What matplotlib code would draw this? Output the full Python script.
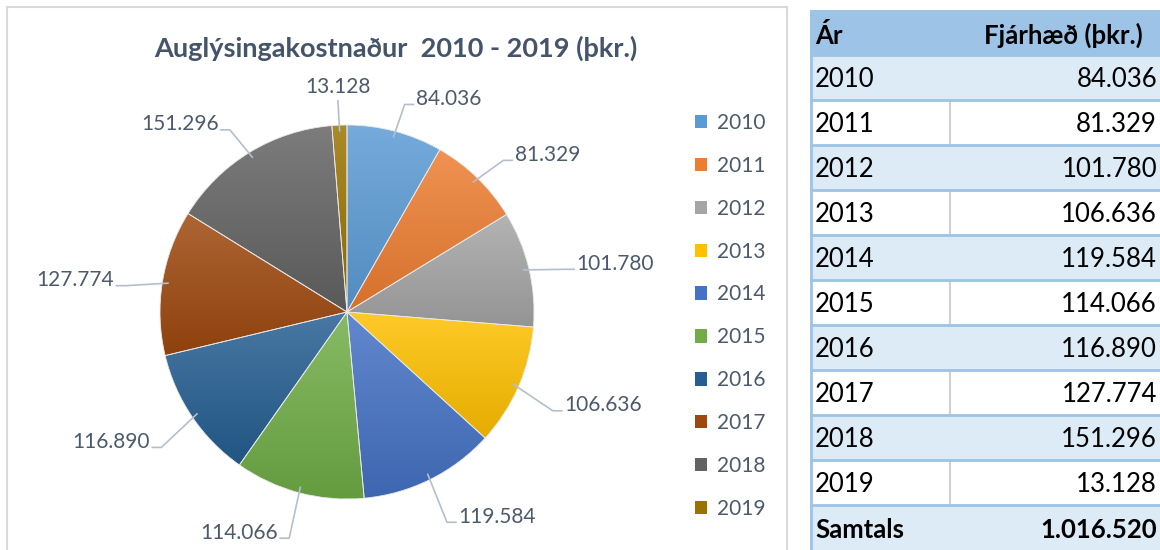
import numpy as np
import matplotlib.pyplot as plt
from matplotlib.patches import Rectangle, Patch
from matplotlib.colors import to_rgb

plt.rcParams["font.family"] = ["Lato", "DejaVu Sans"]

################################################
## Data

years = ["2010", "2011", "2012", "2013", "2014", "2015", "2016", "2017", "2018", "2019"]
amounts = [84.036, 81.329, 101.780, 106.636, 119.584, 114.066, 116.890, 127.774, 151.296, 13.128]
amount_labels = ["84.036", "81.329", "101.780", "106.636", "119.584",
                 "114.066", "116.890", "127.774", "151.296", "13.128"]
total_label = "1.016.520"

title = "Auglýsingakostnaður  2010 - 2019 (þkr.)"
col_headers = ["Ár", "Fjárhæð (þkr.)"]

colors = ["#5B9BD5", "#ED7D31", "#A5A5A5", "#FFC000", "#4472C4",
          "#70AD47", "#255E91", "#9E480E", "#636363", "#997300"]

text_col = "#4D5A6B"
line_col = "#B4BFCC"
W, H = 1160, 550


def shade(c, top=0.16, bottom=0.10, n=64):
    # vertical gradient: lighter on top, a bit darker at the bottom
    c = np.array(to_rgb(c))
    hi = c + (1 - c) * top
    lo = c * (1 - bottom)
    t = np.linspace(0, 1, n)[:, None]
    return (hi * (1 - t) + lo * t)[:, None, :]


################################################
## Figure

fig = plt.figure(figsize=(W / 100, H / 100), dpi=100)

# chart area frame
fig.patches.append(Rectangle((7 / W, -0.01), 780 / W, 1 - 7 / H + 0.01,
                             transform=fig.transFigure, fill=False,
                             ec="#D9D9D9", lw=1.5))

fig.text(396 / W, 1 - 48 / H, title, ha="center", va="center",
         fontsize=19.5, fontweight="bold", color="#44546A")

## Pie
cx, cy, R = 347, 312, 187
lim = 1.45
Rax = R * lim
ax = fig.add_axes([(cx - Rax) / W, (H - cy - Rax) / H, 2 * Rax / W, 2 * Rax / H])

wedges, _ = ax.pie(amounts, colors=colors, startangle=90, counterclock=False,
                   radius=1, wedgeprops=dict(ec="#E8E8E8", lw=0.6))

for w, c in zip(wedges, colors):
    bb = w.get_path().get_extents()
    im = ax.imshow(shade(c), extent=[bb.x0, bb.x1, bb.y0, bb.y1], origin="upper",
                   aspect="auto", zorder=1, interpolation="bilinear")
    im.set_clip_path(w)
    w.set_facecolor("none")
    w.set_zorder(2)

ax.set_xlim(-lim, lim)
ax.set_ylim(-lim, lim)
ax.set_aspect("equal")
ax.axis("off")

# data labels with leader lines
for w, lab in zip(wedges, amount_labels):
    ang = np.deg2rad((w.theta1 + w.theta2) / 2)
    x0, y0 = 0.97 * np.cos(ang), 0.97 * np.sin(ang)
    x1, y1 = 1.2 * np.cos(ang), 1.2 * np.sin(ang) - 0.05
    c = np.cos(ang)
    ha = "left" if c > 0.05 else ("right" if c < -0.05 else "center")
    dx = 0.06 if ha == "left" else (-0.06 if ha == "right" else 0)
    if ha == "center":
        ax.plot([x0, x1], [y0, y1 - 0.02], color=line_col, lw=1.2, zorder=3)
        ax.text(x1, y1, lab, ha="center", va="bottom", fontsize=15, color=text_col)
    else:
        ax.plot([x0, x1, x1 + dx * 0.8], [y0, y1, y1], color=line_col, lw=1.2, zorder=3)
        ax.text(x1 + dx, y1 + 0.03, lab, ha=ha, va="center",
                fontsize=15, color=text_col)

## Legend
handles = [Patch(facecolor=c, edgecolor="none") for c in colors]
fig.legend(handles, years, loc="upper left", bbox_to_anchor=(676 / W, 1 - 94 / H),
           frameon=False, fontsize=15, labelcolor=text_col, handlelength=0.6,
           handleheight=0.6, handletextpad=0.45, labelspacing=1.10)

################################################
## Table

tx0, tx1 = 810, 1160
top = 10
rh = 45
tab = fig.add_axes([tx0 / W, 0, (tx1 - tx0) / W, (H - top) / H])
tab.set_xlim(tx0, tx1)
tab.set_ylim(H, top)
tab.axis("off")

rows = [(y, a, False) for y, a in zip(years, amount_labels)] + [("Samtals", total_label, True)]

# header
tab.add_patch(Rectangle((tx0, top), tx1 - tx0, rh, fc="#9DC3E6", ec="none"))
tab.text(tx0 + 5, top + rh / 2 + 3, col_headers[0], ha="left", va="center",
         fontsize=18.5, fontweight="bold", color="black")
tab.text(tx1 - 17, top + rh / 2 + 3, col_headers[1], ha="right", va="center",
         fontsize=18.5, fontweight="bold", color="black")

for i, (yr, val, bold) in enumerate(rows):
    y = top + rh * (i + 1)
    shaded = (i % 2 == 0) or bold
    tab.add_patch(Rectangle((tx0, y), tx1 - tx0, rh,
                            fc="#DDEBF7" if shaded else "white", ec="none"))
    if not shaded:
        tab.plot([950, 950], [y + 2, y + rh - 2], color="#D0D0D0", lw=1.5)
    tab.plot([tx0, tx1], [y, y], color="#9DC3E6", lw=2)
    fw = "bold" if bold else "normal"
    tab.text(tx0 + 5, y + rh / 2 + 2, yr, ha="left", va="center",
             fontsize=18.5, fontweight=fw, color="black")
    tab.text(tx1 - 3, y + rh / 2 + 2, val, ha="right", va="center",
             fontsize=18.5, fontweight=fw, color="black")

tab.plot([tx0 + 1, tx0 + 1], [top, H], color="#9DC3E6", lw=2)

plt.savefig("out.png", dpi=100)
